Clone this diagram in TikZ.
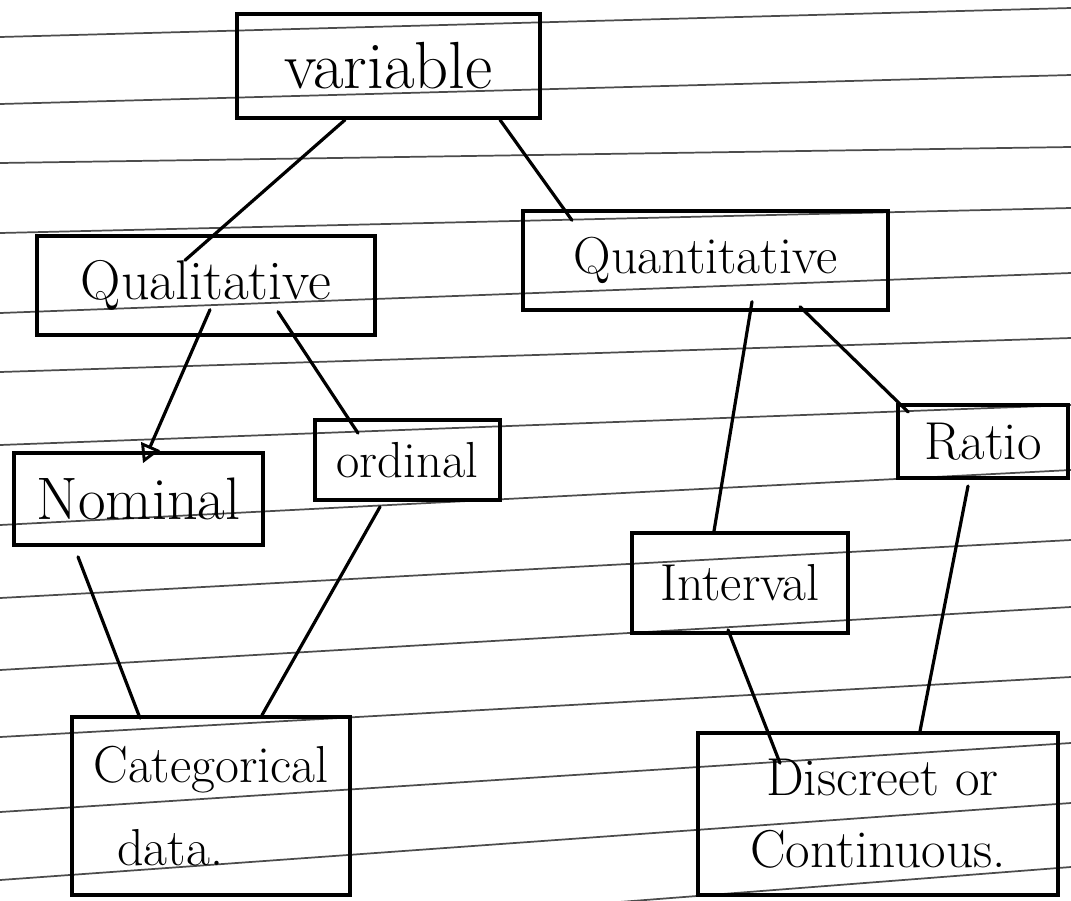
\documentclass[tikz,border=0pt]{standalone}
\usetikzlibrary{calc,arrows.meta}
\begin{document}
\begin{tikzpicture}[x=0.75pt,y=-0.75pt,
  box/.style={draw=black, line width=2.8pt, rectangle, inner sep=0pt, align=center},
  link/.style={draw=black, line width=2.4pt, line cap=round},
  rule/.style={draw=black!70, line width=1.3pt}]
\useasboundingbox (0,0) rectangle (1071,900);
\fill[white] (0,0) rectangle (1071,900);
% ruled notebook lines
\foreach \l/\r in {37/8,104/75,163/147,233/208,313/273,372/338,445/405,525/470,598/540,670/607,737/677,812/743,880/803,950/867}
  \draw[rule] (0,\l) -- (1071,\r);
% boxes
\node[box, minimum width=227pt, minimum height=78pt, font=\fontsize{50}{60}\selectfont] (var) at (388.5,66) {variable};
\node[box, minimum width=253.5pt, minimum height=74pt, font=\fontsize{42}{50}\selectfont] (ql) at (206,285.5) {Qualitative};
\node[box, minimum width=274pt, minimum height=74pt, font=\fontsize{39}{47}\selectfont] (qn) at (705.5,260.5) {Quantitative};
\node[box, minimum width=187pt, minimum height=69pt, font=\fontsize{45}{54}\selectfont] (nom) at (138.5,499) {Nominal};
\node[box, minimum width=139pt, minimum height=60pt, font=\fontsize{38}{46}\selectfont] (ord) at (407.5,460) {ordinal};
\node[box, minimum width=127.5pt, minimum height=55pt, font=\fontsize{40}{48}\selectfont] (rat) at (983,441.5) {Ratio};
\node[box, minimum width=162pt, minimum height=75pt, font=\fontsize{39}{46}\selectfont] (int) at (740,583) {Interval};
\node[box, align=left, minimum width=208.5pt, minimum height=133.5pt, font=\fontsize{39}{62}\selectfont] (cat) at (211,806) {Categorical\\\hspace*{18pt}data.};
\node[box, align=left, minimum width=270pt, minimum height=121.5pt, font=\fontsize{40}{54}\selectfont] (dis) at (878,814) {\hspace*{12pt}Discreet or\\Continuous.};
% connectors
\draw[link] ($(var.south)+(-43.5,0)$) -- ($(ql.north)+(-21,26)$);
\draw[link] ($(var.south)+(111.5,0)$) -- ($(qn.north)+(-133.5,11)$);
\draw[link, -{Triangle[open, length=14pt, width=15pt, line width=2.2pt]}] ($(ql.south)+(4,-27)$) -- ($(nom.north)+(4.5,12)$);
\draw[link] ($(ql.south)+(72,-25)$) -- ($(ord.north)+(-49.5,15)$);
\draw[link] ($(qn.south)+(46.5,-10)$) -- ($(int.north)+(-26,0)$);
\draw[link] ($(rat.north west)+(12,9)$) -- ($(qn.south)+(94.5,-5)$);
\draw[link] ($(nom.south)+(-60.5,10)$) -- ($(cat.north)+(-71,3)$);
\draw[link] ($(ord.south)+(-27.5,5)$) -- ($(cat.north)+(51,0)$);
\draw[link] ($(int.south)+(-12,-5)$) -- ($(dis.north)+(-98,32)$);
\draw[link] ($(rat.south)+(-15,6)$) -- ($(dis.north)+(42,0)$);
\end{tikzpicture}
\end{document}
